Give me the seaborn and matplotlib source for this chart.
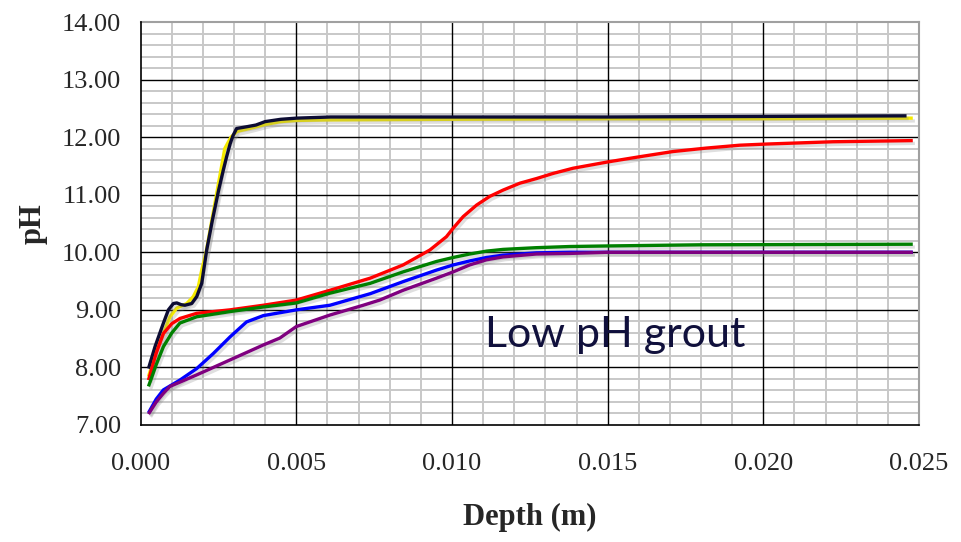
import matplotlib
matplotlib.use("Agg")
import matplotlib.pyplot as plt
import matplotlib.patheffects as pe
from matplotlib.ticker import FixedLocator, FormatStrFormatter
import numpy as np
import pandas as pd
import seaborn as sns

# ---- data ----
black_x = [0.00025, 0.00046, 0.00073, 0.00089, 0.00105, 0.00116, 0.00130, 0.00142, 0.00164, 0.0018,
           0.00196, 0.00212, 0.0023, 0.0025, 0.00265, 0.00276, 0.00287, 0.00296, 0.00308, 0.0034,
           0.0037, 0.0040, 0.0045, 0.005, 0.0061, 0.008, 0.010, 0.015, 0.020, 0.0246]
black_y = [7.98, 8.36, 8.77, 9.00, 9.11, 9.12, 9.09, 9.08, 9.11, 9.23,
           9.46, 10.04, 10.55, 11.07, 11.42, 11.66, 11.88, 12.02, 12.15, 12.18,
           12.21, 12.27, 12.31, 12.33, 12.35, 12.35, 12.35, 12.35, 12.36, 12.37]

yellow_x = [0.00025, 0.00051, 0.00073, 0.00094, 0.00116, 0.00148, 0.00169, 0.00185, 0.00196, 0.0021,
            0.0023, 0.0025, 0.0026, 0.0027, 0.0029, 0.0031, 0.0035, 0.0040, 0.0045, 0.005,
            0.006, 0.010, 0.015, 0.020, 0.0248]
yellow_y = [7.84, 8.30, 8.59, 8.88, 9.03, 9.11, 9.23, 9.40, 9.69, 10.00,
            10.60, 11.20, 11.50, 11.80, 12.00, 12.10, 12.15, 12.22, 12.27, 12.29,
            12.30, 12.31, 12.32, 12.32, 12.33]

red_x = [0.00025, 0.0005, 0.00073, 0.001, 0.00126, 0.0018, 0.00287, 0.00394, 0.005, 0.00608,
         0.00737, 0.00843, 0.00929, 0.00982, 0.01004, 0.01036, 0.01079, 0.01121, 0.01164, 0.01218,
         0.01271, 0.01325, 0.01389, 0.01501, 0.01603, 0.0171, 0.01817, 0.01924, 0.0201, 0.02224, 0.0248]
red_y = [7.78, 8.25, 8.59, 8.76, 8.85, 8.94, 9.00, 9.08, 9.17, 9.34,
         9.55, 9.78, 10.04, 10.27, 10.42, 10.62, 10.82, 10.97, 11.08, 11.20,
         11.28, 11.37, 11.46, 11.57, 11.66, 11.75, 11.81, 11.86, 11.88, 11.92, 11.94]

green_x = [0.00025, 0.0005, 0.00073, 0.001, 0.00126, 0.0018, 0.00287, 0.00394, 0.005, 0.00608,
           0.00737, 0.00843, 0.0095, 0.01004, 0.01057, 0.01111, 0.01164, 0.01271, 0.01378, 0.015,
           0.018, 0.0248]
green_y = [7.67, 8.05, 8.36, 8.60, 8.77, 8.88, 8.97, 9.05, 9.12, 9.29,
           9.46, 9.66, 9.84, 9.91, 9.97, 10.02, 10.05, 10.08, 10.10, 10.11,
           10.13, 10.14]

blue_x = [0.00025, 0.0005, 0.00073, 0.00126, 0.0018, 0.00233, 0.00287, 0.0034, 0.00394, 0.005,
          0.00608, 0.00737, 0.00843, 0.0095, 0.01004, 0.01057, 0.01111, 0.01164, 0.01271, 0.01378,
          0.015, 0.020, 0.0248]
blue_y = [7.21, 7.45, 7.61, 7.78, 7.98, 8.24, 8.53, 8.79, 8.90, 9.00,
          9.08, 9.28, 9.49, 9.69, 9.78, 9.85, 9.91, 9.95, 9.99, 10.00,
          10.00, 10.00, 10.00]

purple_x = [0.00025, 0.0005, 0.00073, 0.00094, 0.0018, 0.00287, 0.00394, 0.00447, 0.005, 0.00608,
            0.00715, 0.00768, 0.00843, 0.0095, 0.01004, 0.01057, 0.01111, 0.01164, 0.01271, 0.01378,
            0.015, 0.020, 0.0248]
purple_y = [7.19, 7.40, 7.55, 7.67, 7.87, 8.13, 8.39, 8.51, 8.71, 8.91,
            9.08, 9.17, 9.34, 9.55, 9.66, 9.78, 9.87, 9.92, 9.97, 9.98,
            10.00, 10.00, 10.00]

series_names = ["yellow", "black", "red", "green", "blue", "purple"]
series_colors = ["#f5ea00", "#0c0c33", "#ff0000", "#008000", "#0000ff", "#7f007f"]
series_x = [yellow_x, black_x, red_x, green_x, blue_x, purple_x]
series_y = [yellow_y, black_y, red_y, green_y, blue_y, purple_y]

x_ticks = [0.000, 0.005, 0.010, 0.015, 0.020, 0.025]
y_ticks = [7.00, 8.00, 9.00, 10.00, 11.00, 12.00, 13.00, 14.00]
annotation = "Low pH grout"

frames = []
for n, xs, ys in zip(series_names, series_x, series_y):
    frames.append(pd.DataFrame({"Depth": xs, "pH": ys, "series": n}))
df = pd.concat(frames, ignore_index=True)

sns.set_style("white")
plt.rcParams["font.family"] = ["Liberation Serif", "DejaVu Serif"]

fig = plt.figure(figsize=(9.61, 5.42), dpi=100)
ax = fig.add_axes([0.1464, 0.2159, 0.8099, 0.7435])

sns.lineplot(data=df, x="Depth", y="pH", hue="series", hue_order=series_names,
             palette=dict(zip(series_names, series_colors)), sort=False, estimator=None,
             linewidth=2.4, legend=False, ax=ax, zorder=5)
for line in ax.get_lines():
    line.set_path_effects([pe.SimpleLineShadow(offset=(1.5, -2.0), shadow_color="#808080", alpha=0.25),
                           pe.Normal()])
    line.set_solid_capstyle("butt")
    line.set_solid_joinstyle("round")

ax.set_xlim(0, 0.025)
ax.set_ylim(7, 14)
ax.set_xticks(x_ticks)
ax.set_yticks(y_ticks)
minor_x = [i * 0.001 for i in range(26) if i % 5 != 0]
minor_y = [7 + i * 0.2 for i in range(36) if i % 5 != 0]
ax.xaxis.set_minor_locator(FixedLocator(minor_x))
ax.yaxis.set_minor_locator(FixedLocator(minor_y))
ax.xaxis.set_major_formatter(FormatStrFormatter("%.3f"))
ax.yaxis.set_major_formatter(FormatStrFormatter("%.2f"))

ax.set_axisbelow(True)
ax.grid(which="minor", color="#c8c8c8", linewidth=1.4)
ax.grid(which="major", visible=False)
for xv in x_ticks[1:-1]:
    ax.axvline(xv, color="black", linewidth=1.0, zorder=1.5)
for yv in y_ticks[1:-1]:
    ax.axhline(yv, color="black", linewidth=1.0, zorder=1.5)

for s in ["left", "bottom"]:
    ax.spines[s].set_color("black")
    ax.spines[s].set_linewidth(1.2)
    ax.spines[s].set_zorder(6)
for s in ["top", "right"]:
    ax.spines[s].set_color("#a0a0a0")
    ax.spines[s].set_linewidth(1.5)

ax.tick_params(axis="both", which="major", direction="out", length=7, width=1.0,
               color="black", labelsize=19, pad=7)
ax.tick_params(axis="x", pad=13)
ax.tick_params(axis="both", which="minor", length=0)

ax.set_xlabel("Depth (m)", fontsize=22, fontweight="bold", labelpad=20)
ax.set_ylabel("pH", fontsize=22, fontweight="bold", labelpad=10)

ax.text(0.442, 0.1935, annotation, transform=ax.transAxes, fontsize=31,
        family=["Lato", "DejaVu Sans"], color="#10103c", ha="left", va="baseline", zorder=10)

fig.savefig("out.png", dpi=100)
